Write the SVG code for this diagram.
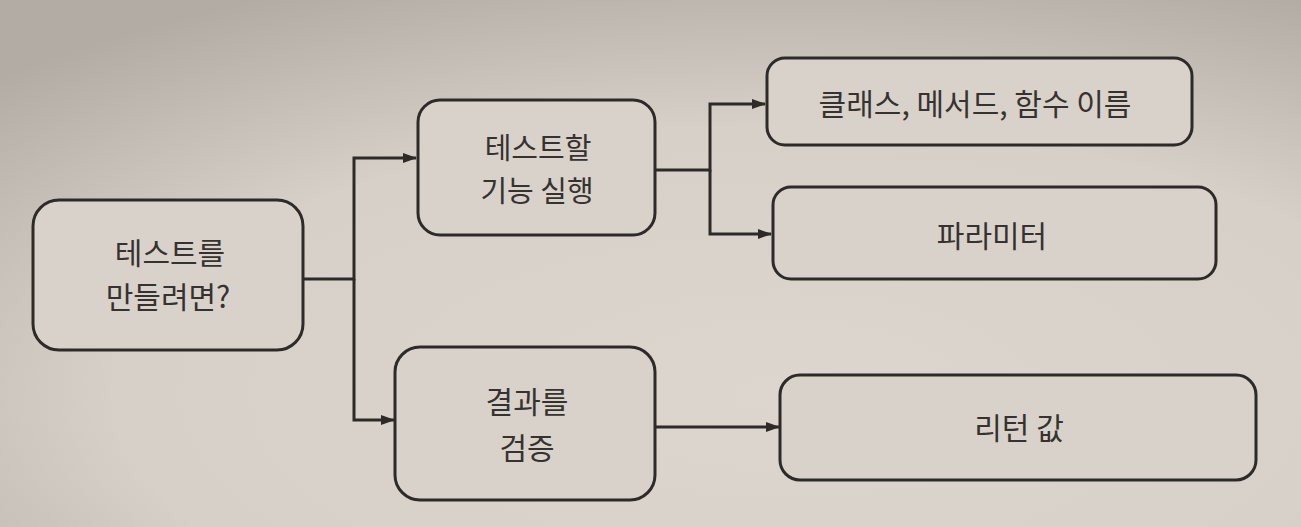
<svg xmlns="http://www.w3.org/2000/svg" width="1301" height="527" viewBox="0 0 1301 527">
<defs>
<radialGradient id="bg" cx="0.6" cy="0.75" r="0.85">
<stop offset="0" stop-color="#dcd6ce"/>
<stop offset="0.6" stop-color="#d6d0c8"/>
<stop offset="1" stop-color="#b3aca5"/>
</radialGradient>
<marker id="arr" viewBox="0 0 14 10" refX="13" refY="5" markerWidth="14" markerHeight="10" markerUnits="userSpaceOnUse" orient="auto">
<path d="M0,0 L14,5 L0,10 Z" fill="#2e2a28"/>
</marker>
<style>
.box{fill:#d8d2ca;stroke:#2e2a28;stroke-width:3}
.lbl{font-family:"Noto Sans CJK KR","Noto Sans",sans-serif;font-size:30px;fill:#363230;text-anchor:middle}
.sm{font-size:29px}
.con{fill:none;stroke:#2e2a28;stroke-width:3}
</style>
</defs>
<rect width="1301" height="527" fill="url(#bg)"/>
<g id="connectors">
<path class="con" d="M303,279 H354 V158 H416" marker-end="url(#arr)"/>
<path class="con" d="M354,279 V420 H394" marker-end="url(#arr)"/>
<path class="con" d="M655,170 H710 V104 H765" marker-end="url(#arr)"/>
<path class="con" d="M710,170 V234 H771" marker-end="url(#arr)"/>
<path class="con" d="M655,427 H779" marker-end="url(#arr)"/>
</g>
<g id="node-start">
<rect class="box" x="33" y="200" width="270" height="150" rx="26"/>
<text class="lbl" x="170" y="264">테스트를</text>
<text class="lbl" x="168" y="308">만들려면?</text>
</g>
<g id="node-run">
<rect class="box" x="418" y="100" width="237" height="135" rx="22"/>
<text class="lbl sm" x="538" y="159">테스트할</text>
<text class="lbl sm" x="537" y="202">기능 실행</text>
</g>
<g id="node-verify">
<rect class="box" x="395" y="347" width="260" height="153" rx="25"/>
<text class="lbl" x="527" y="413">결과를</text>
<text class="lbl" x="527" y="459">검증</text>
</g>
<g id="node-names">
<rect class="box" x="767" y="58" width="425" height="87" rx="18"/>
<text class="lbl" x="975" y="115">클래스, 메서드, 함수 이름</text>
</g>
<g id="node-params">
<rect class="box" x="773" y="187" width="443" height="92" rx="18"/>
<text class="lbl" x="992" y="247">파라미터</text>
</g>
<g id="node-return">
<rect class="box" x="780" y="375" width="476" height="105" rx="20"/>
<text class="lbl" x="1019" y="439">리턴 값</text>
</g>
</svg>
